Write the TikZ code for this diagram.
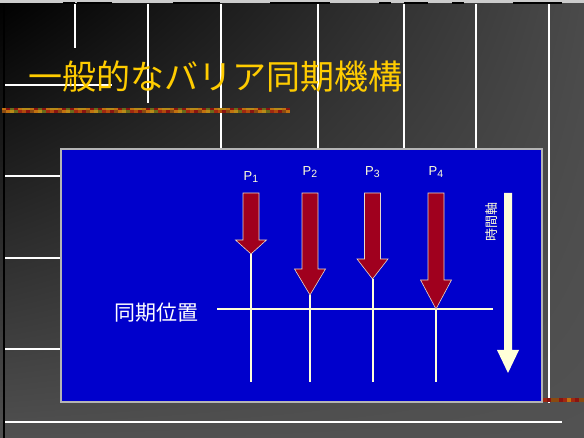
\documentclass[tikz,border=0pt]{standalone}
\usepackage{fontspec}
\usetikzlibrary{shadings}
\setmainfont{Liberation Sans}
\newfontfamily\jp{Noto Sans CJK JP}
\definecolor{bgUR}{HTML}{4A4A4A}
\definecolor{bgLL}{HTML}{505050}
\definecolor{bgLR}{HTML}{525252}
\definecolor{boxblue}{HTML}{0000CC}
\definecolor{boxedge}{HTML}{B4B4B4}
\definecolor{arrred}{HTML}{A0001E}
\definecolor{arredge}{HTML}{E8D8C8}
\definecolor{cream}{HTML}{FFFFD8}
\definecolor{titley}{HTML}{FFCC00}
\definecolor{s0}{HTML}{C07010}
\definecolor{s1}{HTML}{A02810}
\definecolor{s2}{HTML}{8A4A10}
\definecolor{s3}{HTML}{6A6A1A}
\definecolor{s4}{HTML}{8A1410}
\definecolor{s5}{HTML}{B88A18}
\definecolor{s6}{HTML}{B04A0C}
\newcommand\psub[1]{\raisebox{-2.5pt}{\fontsize{10.5}{11}\selectfont #1}}
\begin{document}
\begin{tikzpicture}[x=1pt,y=-1pt,
  gridline/.style={white,line width=1.1pt},
  syncline/.style={cream,line width=2pt},
  parrow/.style={fill=arrred,draw=arredge,line width=0.6pt,line join=miter},
  plabel/.style={text=cream,inner sep=0pt,font=\fontsize{13}{14}\selectfont},
  jplabel/.style={inner sep=0pt}]
\useasboundingbox (0,0) rectangle (584,438);
% background
\shade[upper left=black, upper right=bgUR, lower left=bgLL, lower right=bgLR] (0,0) rectangle (584,438);
\fill[black] (3,0) rectangle (5,438);
\fill[black!20] (0,0) rectangle (584,3);
\foreach \a/\b in {63/75,77/112,173/220,270/318,318/330,379/391,404/428,452/464,513/549,549/562}
  \fill[black] (\a,2.5) rectangle (\b,4.5);
% grid lines
\foreach \x/\y in {75/48,148/103,221/149,318/149,404/149,476/149,549/403}
  \draw[gridline] (\x,4) -- (\x,\y);
\foreach \y/\e in {85/112,176/61,258/61,349/61,422/562}
  \draw[gridline] (5,\y) -- (\e,\y);
% stripes
\foreach \i in {0,...,71}{
  \pgfmathtruncatemacro\r{mod(\i*\i+3*\i,7)}
  \pgfmathtruncatemacro\q{mod(\i*5+2,7)}
  \fill[s\r] ({2+4*\i},108) rectangle ({6+4*\i},110.6);
  \fill[s\q] ({2+4*\i},110.5) rectangle ({6+4*\i},113);
}
\foreach \i in {0,...,10}{
  \pgfmathtruncatemacro\r{mod(\i*\i+2*\i+1,7)}
  \fill[s\r] ({543+4*\i},398) rectangle ({547+4*\i},402);
}
% title
\node[jplabel,anchor=west,text=titley,font=\jp\fontsize{34}{34}\selectfont] (title) at (28,77) {一般的なバリア同期機構};
% blue box
\draw[fill=boxblue,draw=boxedge,line width=1.5pt] (61,149) rectangle (542,402);
% sync line
\coordinate (sl) at (217,309);
\coordinate (sr) at (493,309);
\draw[syncline] (sl) -- (sr);
\node[jplabel,text=white,font=\jp\fontsize{21}{21}\selectfont] (sync) at (156,313) {同期位置};
% process arrows
\foreach \n/\x/\b/\t/\ly in {1/251/240/254/177, 2/310/269/295/172, 3/372.5/259/279/172, 4/436/280/309/172}{
  \coordinate (tip\n) at (\x,\t);
  \coordinate (bot\n) at (\x,382);
  \draw[syncline] (tip\n) -- (bot\n);
  \draw[parrow] ({\x-8},193) -- ({\x+8},193) -- ({\x+8},\b) -- ({\x+15.5},\b) -- (tip\n) -- ({\x-15.5},\b) -- ({\x-8},\b) -- cycle;
  \node[plabel] (p\n) at (\x,\ly) {P\psub{\n}};
}
% time arrow
\coordinate (ttip) at (508,373);
\fill[cream] (504,193) -- (512,193) -- (512,350) -- (519,350) -- (ttip) -- (497,350) -- (504,350) -- cycle;
\node[jplabel,text=cream,rotate=90,font=\jp\fontsize{13}{13}\selectfont] (time) at (492,222) {時間軸};
\end{tikzpicture}
\end{document}
